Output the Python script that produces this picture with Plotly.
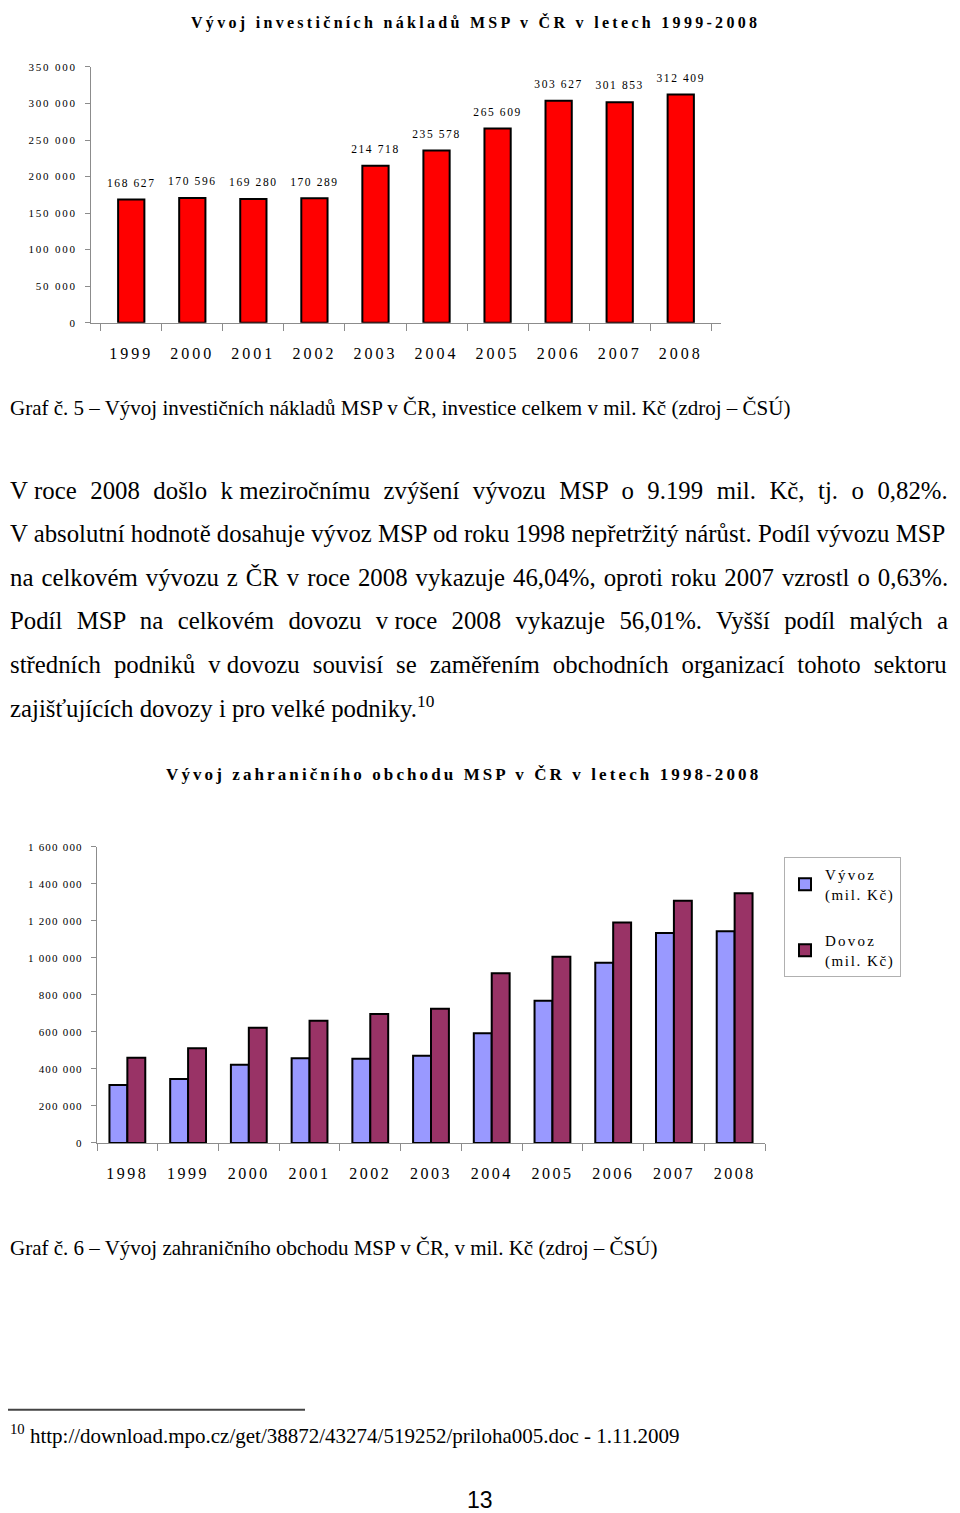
import plotly.graph_objects as go

W, H = 960, 1513

# Graf 5 - investicni naklady MSP (mil. Kc)
inv_years = ['1999', '2000', '2001', '2002', '2003', '2004', '2005', '2006', '2007', '2008']
inv_values = [168627, 170596, 169280, 170289, 214718, 235578, 265609, 303627, 301853, 312409]
inv_ticks = [0, 50000, 100000, 150000, 200000, 250000, 300000, 350000]

# Graf 6 - zahranicni obchod MSP (mil. Kc), odhad z obrazku
trade_years = ['1998', '1999', '2000', '2001', '2002', '2003', '2004', '2005', '2006', '2007', '2008']
export_values = [313000, 345000, 422000, 458000, 455000, 471000, 593000, 768000, 974000, 1135000, 1144000]
import_values = [460000, 512000, 622000, 660000, 697000, 725000, 917000, 1007000, 1192000, 1309000, 1350000]
trade_ticks = [0, 200000, 400000, 600000, 800000, 1000000, 1200000, 1400000, 1600000]

SERIF = 'Liberation Serif'


def fmt(v):
    return f'{v:,}'.replace(',', ' ')


def spaced(s, ls):
    return f'<span style="letter-spacing:{ls}px">{s}</span>'


# page pixel -> paper, corrected for the offset seen in the screenshot
def px(x):
    return max(x - 8, 0) / W


def py(y):
    return 1 - max((y - 13) / 0.993, 0) / H


fig = go.Figure()

fig.add_trace(go.Bar(
    x=inv_years, y=inv_values, xaxis='x', yaxis='y', width=0.43,
    marker=dict(color='#FF0000', line=dict(color='black', width=2)),
    showlegend=False, hoverinfo='x+y'))

# value labels above the red bars
fig.add_trace(go.Scatter(
    x=inv_years, y=inv_values, xaxis='x', yaxis='y', mode='markers+text',
    marker=dict(size=14, opacity=0), text=[spaced(fmt(v), 1.6) for v in inv_values],
    textposition='top center', textfont=dict(size=11.5, family=SERIF, color='black'),
    showlegend=False, hoverinfo='skip', cliponaxis=False))

fig.add_trace(go.Bar(
    x=trade_years, y=export_values, xaxis='x2', yaxis='y2',
    name=spaced('Vývoz', 2.2) + '<br>' + spaced('(mil. Kč)', 1.6), legendgroup='v',
    marker=dict(color='#9999FF', line=dict(color='black', width=2))))
fig.add_trace(go.Bar(
    x=trade_years, y=import_values, xaxis='x2', yaxis='y2',
    name=spaced('Dovoz', 2.2) + '<br>' + spaced('(mil. Kč)', 1.6), legendgroup='d',
    marker=dict(color='#993366', line=dict(color='black', width=2))))

line_style = dict(showgrid=False, zeroline=False, showline=True, linecolor='#8c8c8c',
                  linewidth=1, ticks='outside', tickcolor='#8c8c8c', fixedrange=True)

fig.update_layout(
    width=W, height=H, autosize=False,
    margin=dict(l=0, r=0, t=0, b=0),
    paper_bgcolor='white', plot_bgcolor='white',
    font=dict(family=SERIF, color='black'),
    barmode='group', bargap=0.41, bargroupgap=0,
    xaxis=dict(type='category', domain=[px(91), px(721)], anchor='y', tickson='boundaries',
               tickfont=dict(size=16), ticklabelstandoff=16, ticklen=7,
               ticktext=[spaced(y, 3) for y in inv_years], tickvals=inv_years,
               **line_style),
    yaxis=dict(domain=[py(322), py(66)], anchor='x', range=[0, 350000],
               tickvals=inv_ticks, ticktext=[spaced(fmt(v), 1.8) for v in inv_ticks],
               tickfont=dict(size=11), ticklen=5, ticklabelstandoff=6,
               **line_style),
    xaxis2=dict(type='category', domain=[px(97), px(765)], anchor='y2', tickson='boundaries',
                tickfont=dict(size=16), ticklabelstandoff=16, ticklen=7,
                ticktext=[spaced(y, 2.5) for y in trade_years], tickvals=trade_years,
                **line_style),
    yaxis2=dict(domain=[py(1143), py(846.7)], anchor='x2', range=[0, 1600000],
                tickvals=trade_ticks, ticktext=[spaced(fmt(v), 1.2) for v in trade_ticks],
                tickfont=dict(size=11), ticklen=5, ticklabelstandoff=6,
                **line_style),
    legend=dict(x=px(784), y=py(857), xanchor='left', yanchor='top',
                bordercolor='#b0b0b0', borderwidth=1, bgcolor='white',
                font=dict(size=15, family=SERIF), tracegroupgap=24,
                traceorder='grouped', itemwidth=30),
)

# tight (non stretched) space, as after one-letter prepositions in the text
TS = '\u2005'
paragraph = [
    ('V' + TS + 'roce 2008 došlo k' + TS + 'meziročnímu zvýšení vývozu MSP o 9.199 mil. Kč, tj. o 0,82%.', 7.3),
    ('V absolutní hodnotě dosahuje vývoz MSP od roku 1998 nepřetržitý nárůst. Podíl vývozu MSP', 0),
    ('na celkovém vývozu z ČR v roce 2008 vykazuje 46,04%, oproti roku 2007 vzrostl o 0,63%.', 1.8),
    ('Podíl MSP na celkovém dovozu v' + TS + 'roce 2008 vykazuje 56,01%. Vyšší podíl malých a', 8.2),
    ('středních podniků v' + TS + 'dovozu souvisí se zaměřením obchodních organizací tohoto sektoru', 6.8),
    ('zajišťujících dovozy i pro velké podniky.<sup>10</sup>', 0),
]
para_y = [490, 533, 577, 620, 664, 707]

texts = [
    (475, 22, '<b>' + spaced('Vývoj investičních nákladů MSP v ČR v letech 1999-2008', 3.3) + '</b>', 16, 'center'),
    (5, 407, 'Graf č. 5 – Vývoj investičních nákladů MSP v ČR, investice celkem v mil. Kč (zdroj – ČSÚ)', 21, 'left'),
    (463, 774, '<b>' + spaced('Vývoj zahraničního obchodu MSP v ČR v letech 1998-2008', 3.1) + '</b>', 17, 'center'),
    (5, 1248, 'Graf č. 6 – Vývoj zahraničního obchodu MSP v ČR, v mil. Kč (zdroj – ČSÚ)', 21, 'left'),
    (3, 1435, '<sup>10</sup> http://download.mpo.cz/get/38872/43274/519252/priloha005.doc - 1.11.2009', 21, 'left'),
]
for (line, ws), y in zip(paragraph, para_y):
    t = f'<span style="word-spacing:{ws}px">{line}</span>' if ws else line
    texts.append((5, y, t, 24.8, 'left'))

for x, y, t, s, a in texts:
    fig.add_annotation(x=px(x), y=py(y), xref='paper', yref='paper', xanchor=a,
                       yanchor='middle', text=t, showarrow=False, align=a,
                       font=dict(size=s, family=SERIF, color='black'))

fig.add_annotation(x=px(480), y=py(1500), xref='paper', yref='paper', text='13',
                   xanchor='center', yanchor='middle', showarrow=False,
                   font=dict(size=23, family='Liberation Sans', color='black'))

# footnote separator line
fig.add_shape(type='line', xref='paper', yref='paper', x0=px(5), x1=px(305),
              y0=py(1410), y1=py(1410), line=dict(color='#444444', width=2))

fig.write_html('out.html')
